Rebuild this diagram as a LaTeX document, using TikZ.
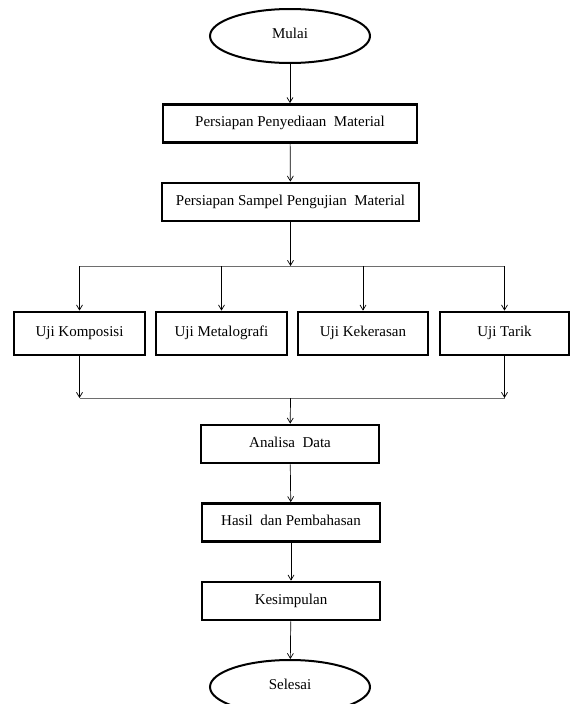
\documentclass[tikz,border=0pt]{standalone}
\usepackage{fontspec}
\setmainfont{Liberation Serif}
\usetikzlibrary{positioning,shapes,arrows,arrows.meta,calc}
\definecolor{busgray}{HTML}{6E6E6E}

\begin{document}
\begin{tikzpicture}[x=1pt, y=-1pt,
    font=\fontsize{15}{18}\selectfont,
    terminal/.style={ellipse, draw=black, line width=2pt, minimum width=160pt, minimum height=54pt, inner sep=0pt, text height=10pt, text depth=5pt},
    process/.style={rectangle, draw=black, line width=2.8pt, minimum height=38pt, inner sep=0pt, text height=10pt, text depth=4pt},
    flow/.style={-{Straight Barb[length=5pt,width=6pt]}, black, line width=0.7pt},
    bus/.style={busgray, line width=0.7pt}]
      \useasboundingbox (0,0) rectangle (570,704);
      % start and preparation
      \node[terminal] (mulai) at (290,36) {Mulai};
      \node[process, minimum width=254pt] (penyediaan) at (290,123.5) {Persiapan Penyediaan\ \ Material};
      \node[process, minimum width=257pt] (sampel) at (290.5,202) {Persiapan Sampel Pengujian\ \ Material};
      \coordinate (bagi) at (290.5,266);
      % tests
      \node[process, minimum width=131pt, minimum height=43pt] (komposisi) at (79.5,333.5) {Uji Komposisi};
      \node[process, minimum width=131pt, minimum height=43pt] (metalografi) at (221.5,333.5) {Uji Metalografi};
      \node[process, minimum width=130pt, minimum height=43pt] (kekerasan) at (363,333.5) {Uji Kekerasan};
      \node[process, minimum width=129pt, minimum height=43pt] (tarik) at (504.5,333.5) {Uji Tarik};
      \coordinate (gabung) at (290.5,398);
      % analysis and end
      \node[process, minimum width=178pt] (analisa) at (290,444) {Analisa\ \ Data};
      \node[process, minimum width=178pt] (hasil) at (291,522.5) {Hasil\ \ dan Pembahasan};
      \node[process, minimum width=178pt] (kesimpulan) at (291,601) {Kesimpulan};
      \node[terminal] (selesai) at (290,687) {Selesai};

      \draw[flow] (mulai) -- (penyediaan);
      \draw[flow] (penyediaan) -- (sampel);
      \draw[flow] (sampel) -- (bagi);
      \draw[bus] (komposisi.north |- bagi) -- (tarik.north |- bagi);
      \foreach \uji in {komposisi,metalografi,kekerasan,tarik}
        \draw[flow] (\uji.north |- bagi) -- (\uji.north);
      \draw[flow] (komposisi) -- (komposisi |- gabung);
      \draw[flow] (tarik) -- (tarik |- gabung);
      \draw[bus] (komposisi |- gabung) -- (tarik |- gabung);
      \draw[flow] (gabung) -- (analisa);
      \draw[flow] (analisa) -- (hasil);
      \draw[flow] (hasil) -- (kesimpulan);
      \draw[flow] (kesimpulan) -- (selesai);
\end{tikzpicture}
\end{document}
